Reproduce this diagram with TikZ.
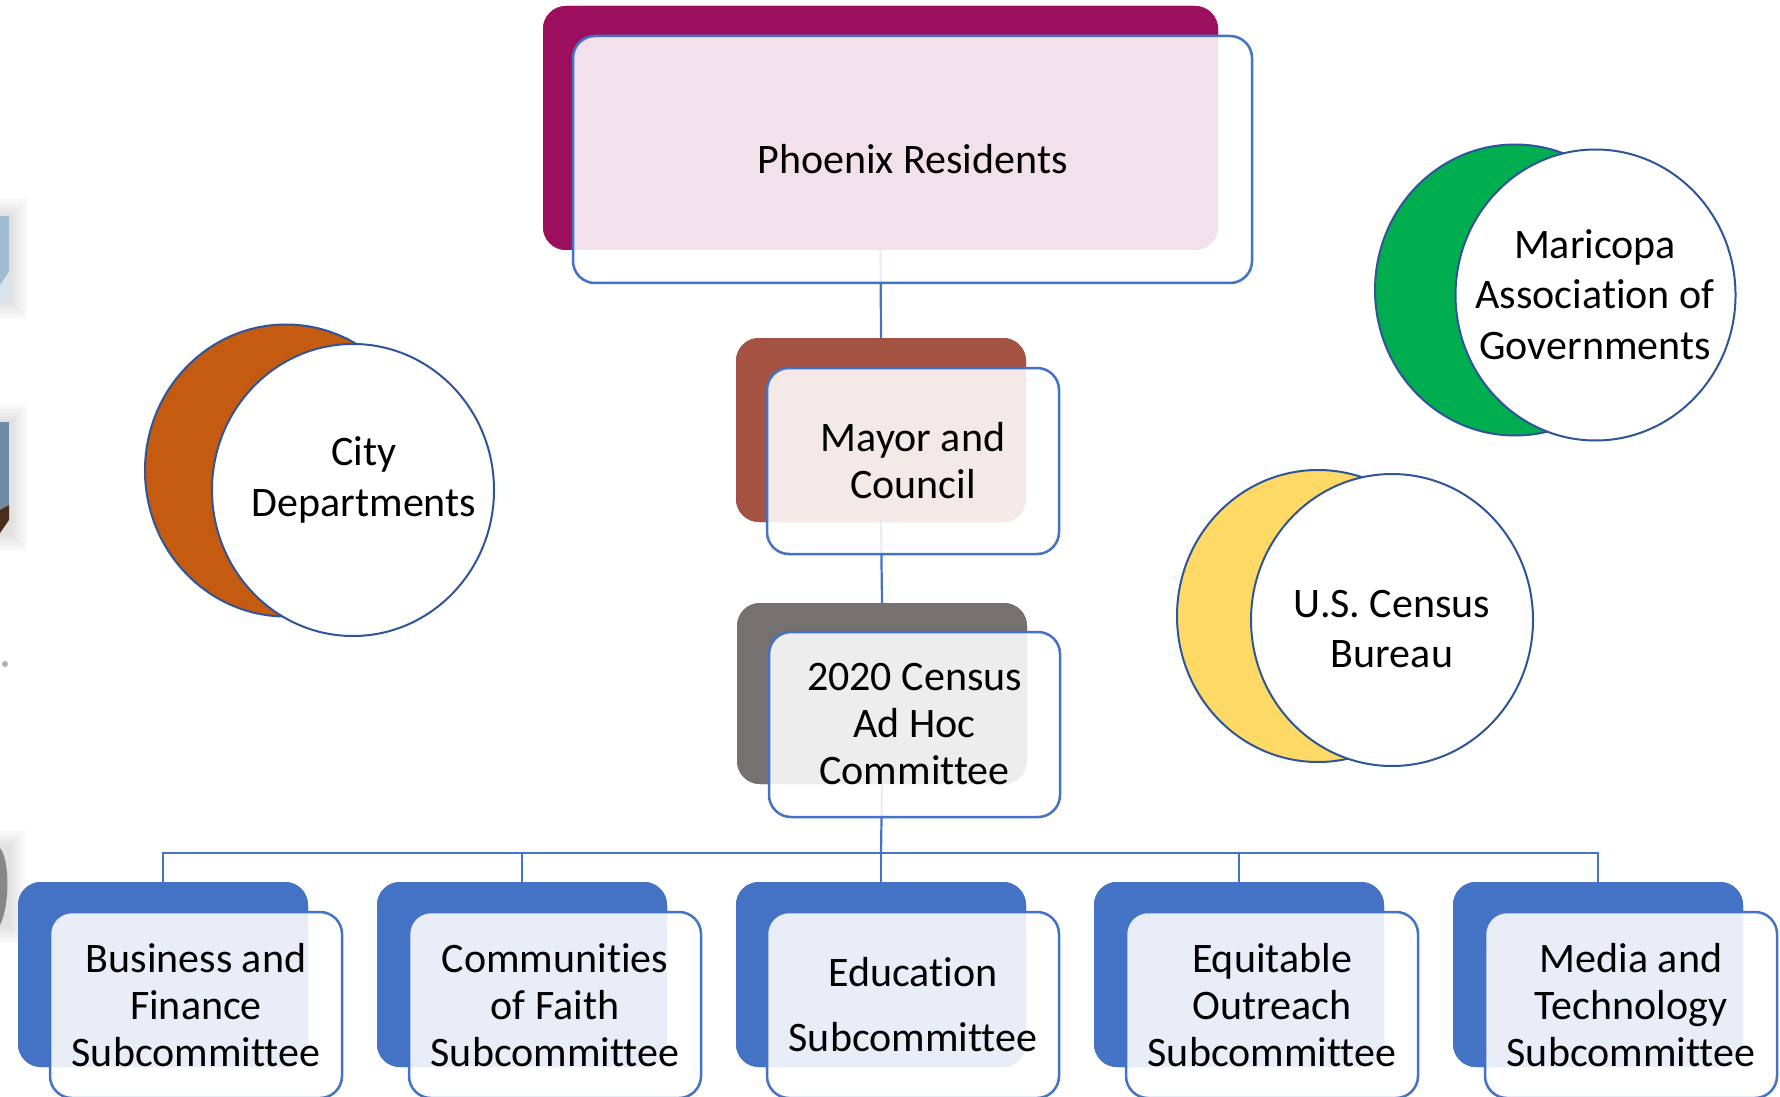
\documentclass[tikz,border=0pt]{standalone}
\usepackage{fontspec}
\setmainfont{Carlito}[Ligatures={NoCommon}]
\usetikzlibrary{shapes.geometric}
\definecolor{cMagenta}{HTML}{9B0F5E}
\definecolor{cBrown}{HTML}{A45342}
\definecolor{cGrey}{HTML}{767171}
\definecolor{cBlue}{HTML}{4472C4}
\definecolor{cOrange}{HTML}{C55A11}
\definecolor{cGreen}{HTML}{00AD4F}
\definecolor{cYellow}{HTML}{FFD966}
\definecolor{cRing}{HTML}{2F5597}
\tikzset{
  backbox/.style={rectangle, rounded corners=11.5pt, anchor=north west, inner sep=0pt, outer sep=0pt},
  frontbox/.style={rectangle, rounded corners=11pt, draw=cBlue, line width=1.25pt,
     fill=white, fill opacity=0.88, text opacity=1, inner sep=0pt, outer sep=0pt,
     align=center, font=\fontsize{21pt}{23.5pt}\selectfont},
  backring/.style={ellipse, draw=cRing, line width=1pt, inner sep=0pt, minimum width=141pt, minimum height=146pt},
  frontring/.style={ellipse, draw=cRing, line width=1pt, fill=white, inner sep=0pt, minimum width=141pt, minimum height=146pt},
  ringtext/.style={align=center, inner sep=0pt, font=\fontsize{21pt}{25.25pt}\selectfont},
  link/.style={draw=cBlue, line width=1.1pt},
  subback/.style={backbox, fill=cBlue, minimum width=145pt, minimum height=92.5pt},
  subfront/.style={frontbox, minimum width=146pt, minimum height=93pt},
}
\begin{document}
\begin{tikzpicture}[x=0.5pt,y=-0.5pt]
\useasboundingbox (0,0) rectangle (1780,1096);
\clip (0,0) rectangle (1780,1096);
\fill[white] (0,0) rectangle (1780,1096);

% left edge fragments
\foreach \d in {3,6,...,18} {
  \fill[black,opacity=0.02] (0,216-\d) rectangle (10+\d,301+\d);
  \fill[black,opacity=0.02] (0,422-\d) rectangle (10+\d,533+\d);
  \fill[black,opacity=0.02] (0,848-\d) rectangle (8+\d,925+\d);
}
\fill[color={rgb,255:red,160;green,188;blue,208}] (0,216) rectangle (9,301);
\fill[color={rgb,255:red,215;green,228;blue,238}] (0,285) -- (9,272) -- (9,301) -- (0,301) -- cycle;
\fill[color={rgb,255:red,110;green,140;blue,165}] (0,422) rectangle (9,520);
\fill[color={rgb,255:red,75;green,45;blue,30}] (0,510) -- (9,505) -- (9,520) -- (0,533) -- cycle;
\fill[color={rgb,255:red,175;green,175;blue,175}] (5,664) circle (3);
\fill[color={rgb,255:red,135;green,135;blue,135}] (0,848) .. controls (10,860) and (10,905) .. (0,925) -- cycle;

% back boxes (named, used as connector ends)
\coordinate (bus) at (881,853);
\node[backbox, fill=cMagenta, minimum width=337.5pt, minimum height=122pt] (pb) at (543,6) {};
\node[backbox, fill=cBrown, minimum width=145pt, minimum height=92pt] (mb) at (736,338) {};
\node[backbox, fill=cGrey, minimum width=145pt, minimum height=90.5pt] (cb) at (737,603) {};
\node[subback] (s1b) at (18,882) {};
\node[subback] (s2b) at (377,882) {};
\node[subback] (s3b) at (736,882) {};
\node[subback] (s4b) at (1094,882) {};
\node[subback] (s5b) at (1453,882) {};

% connectors (under the front boxes, which veil them)
\draw[link] (pb.south) -- (mb.north);
\draw[link] (mb.south) -- (cb.north);
\draw[link] (cb.south) -- (bus);
\draw[link] (s1b.north) |- (bus);
\draw[link] (s2b.north) |- (bus);
\draw[link] (s3b.north) |- (bus);
\draw[link] (s4b.north) |- (bus);
\draw[link] (s5b.north) |- (bus);

% redraw backs above connectors
\fill[cMagenta, rounded corners=11.5pt] (pb.north west) rectangle (pb.south east);
\fill[cBrown, rounded corners=11.5pt] (mb.north west) rectangle (mb.south east);
\fill[cGrey, rounded corners=11.5pt] (cb.north west) rectangle (cb.south east);
\foreach \n in {s1b,s2b,s3b,s4b,s5b}
  \fill[cBlue, rounded corners=11.5pt] (\n.north west) rectangle (\n.south east);

% front boxes
\node[frontbox, minimum width=339.5pt, minimum height=123.5pt] (pf) at (912.5,159.5) {Phoenix Residents};
\node[frontbox, minimum width=146pt, minimum height=93pt] (mf) at (913,461) {Mayor and\\Council};
\node[frontbox, minimum width=145.5pt, minimum height=92.5pt] (cf) at (914.5,724.5) {2020 Census\\Ad Hoc\\Committee};
\node[subfront] (s1f) at (196,1005) {Business and\\Finance\\Subcommittee};
\node[subfront] (s2f) at (555,1005) {Communities\\of Faith\\Subcommittee};
\node[subfront] (s3f) at (913,1005) {Education\\[9pt]Subcommittee};
\node[subfront] (s4f) at (1272,1005) {Equitable\\Outreach\\Subcommittee};
\node[subfront] (s5f) at (1631,1005) {Media and\\Technology\\Subcommittee};

% rings
\node[backring, fill=cOrange] (cdb) at (286,470.5) {};
\node[frontring] (cdf) at (353,490) {};
\node[ringtext] (cdt) at (364,480) {City\\Departments};

\node[backring, fill=cGreen, minimum width=140pt, minimum height=145.5pt] (mab) at (1515,290) {};
\node[frontring, minimum width=140pt, minimum height=145.5pt] (maf) at (1595.5,295) {};
\node[ringtext] (mat) at (1595,294.5) {Maricopa\\Association of\\Governments};

\node[backring, fill=cYellow] (usb) at (1318,616) {};
\node[frontring] (usf) at (1392,620) {};
\node[ringtext] (ust) at (1392,629) {U.S. Census\\Bureau};
\end{tikzpicture}
\end{document}
